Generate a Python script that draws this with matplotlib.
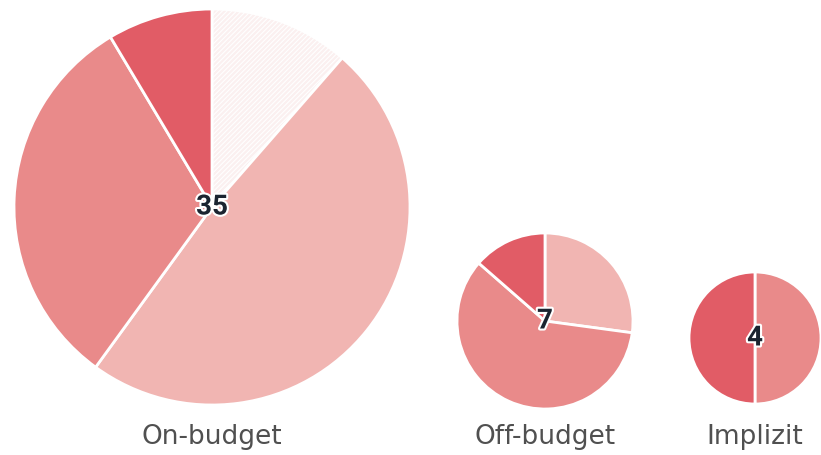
import matplotlib
matplotlib.use("Agg")
import matplotlib.pyplot as plt
import matplotlib.patheffects as pe

# ── Daten ──────────────────────────────────────────────────────────────
GROUPS = ["On-budget", "Off-budget", "Implizit"]
TOTALS = ["35", "7", "4"]

# Anteile im Uhrzeigersinn ab 12 Uhr
ON_BUDGET = [4, 17, 11, 3]
OFF_BUDGET = [1.9, 4.15, 0.95]
IMPLIZIT = [2, 2]

DARK = "#E15C66"
MID = "#E98A8A"
LIGHT = "#F1B5B2"
HATCH_BG = "#FBF0F0"

ON_COLORS = [HATCH_BG, LIGHT, MID, DARK]
OFF_COLORS = [LIGHT, MID, DARK]
IMP_COLORS = [MID, DARK]

plt.rcParams["font.family"] = ["Roboto", "DejaVu Sans"]
plt.rcParams["hatch.color"] = "#EBC6C6"
plt.rcParams["hatch.linewidth"] = 0.8

fig = plt.figure(figsize=(8.21, 4.56), dpi=100)
ax = fig.add_axes([0, 0, 1, 1])

# (Mittelpunkt in Pixel, Radius)
pies = [
    (ON_BUDGET, ON_COLORS, (212, 456 - 208), 198),
    (OFF_BUDGET, OFF_COLORS, (545, 456 - 322), 88),
    (IMPLIZIT, IMP_COLORS, (755, 456 - 339), 66),
]

for i, (vals, cols, c, r) in enumerate(pies):
    wedges, _ = ax.pie(vals, colors=cols, center=c, radius=r, startangle=90,
                       counterclock=False, frame=True,
                       wedgeprops=dict(edgecolor="white", linewidth=2))
    if i == 0:
        wedges[0].set_hatch("///////")
    ax.text(c[0], c[1], TOTALS[i], ha="center", va="center", fontsize=20,
            fontweight="bold", color="#1B2430",
            path_effects=[pe.withStroke(linewidth=3, foreground="white")])
    ax.text(c[0], 456 - 437, GROUPS[i], ha="center", va="center",
            fontsize=19, color="#505050", family="DejaVu Sans")

ax.set_xlim(0, 821)
ax.set_ylim(0, 456)
ax.set_aspect("equal")
ax.axis("off")

fig.savefig("out.png", dpi=100)
